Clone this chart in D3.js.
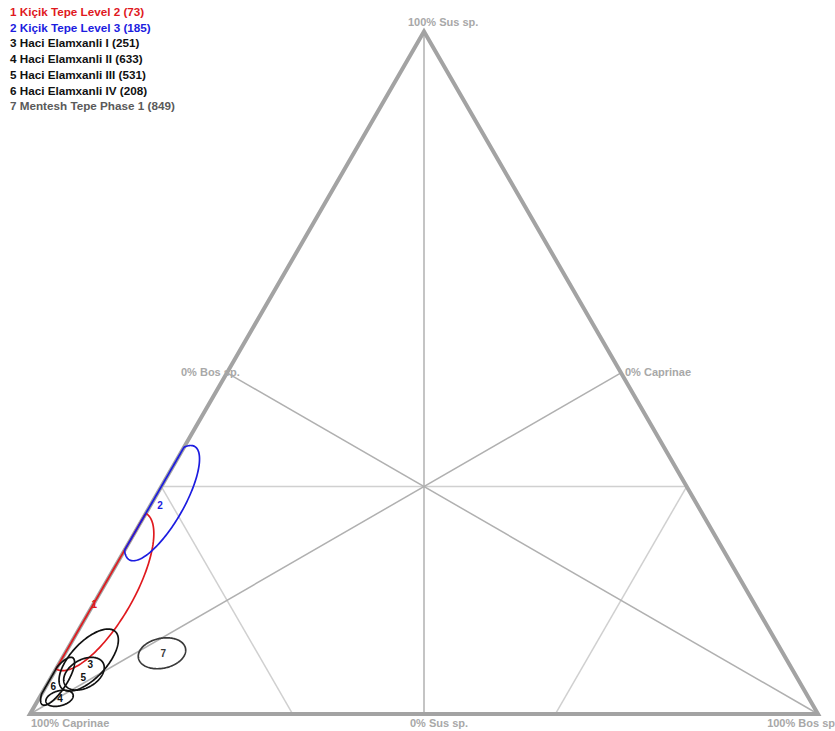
<!DOCTYPE html>
<html><head><meta charset="utf-8">
<script src="https://cdn.jsdelivr.net/npm/d3@7"></script>
<style>
body{margin:0;background:#fff}
svg{display:block}
text{font-family:"Liberation Sans",Arial,sans-serif;font-weight:bold}
</style>
</head><body>
<svg id="chart" width="835" height="731"></svg>
<script>
// ---- data ----
const ids = [1, 2, 3, 4, 5, 6, 7];
const sites = ["Kiçik Tepe Level 2", "Kiçik Tepe Level 3", "Haci Elamxanli I", "Haci Elamxanli II",
               "Haci Elamxanli III", "Haci Elamxanli IV", "Mentesh Tepe Phase 1"];
const counts = [73, 185, 251, 633, 531, 208, 849];
const seriesColors = ["#e0191e", "#1c1ce0", "#111111", "#111111", "#111111", "#111111", "#3a3a3a"];
// mean composition (label position), percent
const meanSus = [16.1, 30.6, 7.3, 2.2, 5.3, 4.1, 8.8];
const meanBos = [0.1, 1.2, 4.0, 2.7, 4.1, 0.9, 12.5];
// confidence ellipse: centre (percent), semi-axes (percent units), rotation (deg)
const ellSus = [18.0, 30.9, 7.9, 2.3, 5.9, 4.8, 8.9];
const ellBos = [0.0, 1.3, 3.5, 2.6, 3.9, 1.1, 12.3];
const ellMajor = [11.4, 8.3, 4.95, 1.78, 2.79, 3.55, 3.05];
const ellMinor = [4.1, 2.7, 2.28, 0.95, 1.78, 1.14, 1.9];
const ellAngle = [60, 60, 47, 15, 30, 57, 12];
// axis labels
const vertexLabels = ["100% Caprinae", "100% Bos sp", "100% Sus sp."];
const midLabels = ["0% Sus sp.", "0% Caprinae", "0% Bos sp."];
const third = 100 / 3;

// ---- layout ----
const svg = d3.select("#chart");
const side = 788, x0 = 30, y0 = 714;
const xs = d3.scaleLinear().domain([0, 100]).range([x0, x0 + side]);           // bos + sus/2
const ys = d3.scaleLinear().domain([0, 100]).range([y0, y0 - side * Math.sqrt(3) / 2]); // sus
const proj = (s, b) => [xs(b + s / 2), ys(s)];
const inv = (x, y) => { const s = ys.invert(y); return [s, xs.invert(x) - s / 2]; };
const pxPerUnit = xs(1) - xs(0);

const vCap = proj(0, 0), vBos = proj(0, 100), vSus = proj(100, 0);
const mid = (p, q) => [(p[0] + q[0]) / 2, (p[1] + q[1]) / 2];
const mBottom = mid(vCap, vBos), mRight = mid(vBos, vSus), mLeft = mid(vCap, vSus);

// zone lines
const zoneLines = [
  [proj(third, 0), proj(third, 100 - third)],       // sus = 1/3
  [proj(third, 0), proj(0, third)],                 // caprinae = 2/3
  [proj(third, 100 - third), proj(0, 100 - third)]  // bos = 2/3
];
svg.append("g").selectAll("line").data(zoneLines).join("line")
  .attr("x1", d => d[0][0]).attr("y1", d => d[0][1])
  .attr("x2", d => d[1][0]).attr("y2", d => d[1][1])
  .attr("stroke", "#d0d0d0").attr("stroke-width", 1.5);

const medians = [[vSus, mBottom], [vCap, mRight], [vBos, mLeft]];
svg.append("g").selectAll("line").data(medians).join("line")
  .attr("x1", d => d[0][0]).attr("y1", d => d[0][1])
  .attr("x2", d => d[1][0]).attr("y2", d => d[1][1])
  .attr("stroke", "#b0b0b0").attr("stroke-width", 1.5);

// outer triangle
svg.append("path")
  .attr("d", d3.line()([vCap, vBos, vSus]) + "Z")
  .attr("fill", "none").attr("stroke", "#a3a3a3").attr("stroke-width", 4)
  .attr("stroke-linejoin", "miter");

// ellipses, clamped onto the simplex
function ellipsePoints(i) {
  const c = proj(ellSus[i], ellBos[i]);
  const a = ellMajor[i] * pxPerUnit, b = ellMinor[i] * pxPerUnit;
  const phi = ellAngle[i] * Math.PI / 180;
  const pts = [];
  for (let k = 0; k < 180; k++) {
    const t = k / 180 * 2 * Math.PI;
    const u = a * Math.cos(t), v = b * Math.sin(t);
    const x = c[0] + u * Math.cos(phi) - v * Math.sin(phi);
    const y = c[1] - (u * Math.sin(phi) + v * Math.cos(phi));
    let [s, bo] = inv(x, y);
    let ca = 100 - s - bo;
    s = Math.max(0, s); bo = Math.max(0, bo); ca = Math.max(0, ca);
    const tot = s + bo + ca;
    pts.push(proj(s / tot * 100, bo / tot * 100));
  }
  return pts;
}
const lineGen = d3.line().curve(d3.curveLinearClosed);
svg.append("g").selectAll("path").data(ids).join("path")
  .attr("d", (d, i) => lineGen(ellipsePoints(i)))
  .attr("fill", "none")
  .attr("stroke", (d, i) => seriesColors[i])
  .attr("stroke-width", 1.7);

// point labels at means
svg.append("g").selectAll("text").data(ids).join("text")
  .attr("x", (d, i) => proj(meanSus[i], meanBos[i])[0])
  .attr("y", (d, i) => proj(meanSus[i], meanBos[i])[1])
  .attr("text-anchor", "middle").attr("dominant-baseline", "central")
  .attr("font-size", 10)
  .attr("fill", (d, i) => seriesColors[i])
  .text(d => d);

// axis labels
const axisFill = "#a8a8a8";
const axisText = [
  {t: vertexLabels[0], x: vCap[0] + 1, y: vCap[1] + 13, a: "start"},
  {t: vertexLabels[1], x: vBos[0] + 17, y: vBos[1] + 13, a: "end"},
  {t: vertexLabels[2], x: vSus[0] - 16, y: vSus[1] - 6, a: "start"},
  {t: midLabels[0], x: mBottom[0] - 14, y: mBottom[1] + 13, a: "start"},
  {t: midLabels[1], x: mRight[0] + 4, y: mRight[1] + 3, a: "start"},
  {t: midLabels[2], x: mLeft[0] - 46, y: mLeft[1] + 3, a: "start"}
];
svg.append("g").selectAll("text").data(axisText).join("text")
  .attr("x", d => d.x).attr("y", d => d.y)
  .attr("text-anchor", d => d.a)
  .attr("font-size", 11).attr("fill", axisFill)
  .text(d => d.t);

// legend
svg.append("g").selectAll("text").data(ids).join("text")
  .attr("x", 10)
  .attr("y", (d, i) => 16 + i * 15.7)
  .attr("font-size", 11.7)
  .attr("fill", (d, i) => i === 6 ? "#5a5a5a" : seriesColors[i])
  .text((d, i) => `${d} ${sites[i]} (${counts[i]})`);
</script>
</body></html>
